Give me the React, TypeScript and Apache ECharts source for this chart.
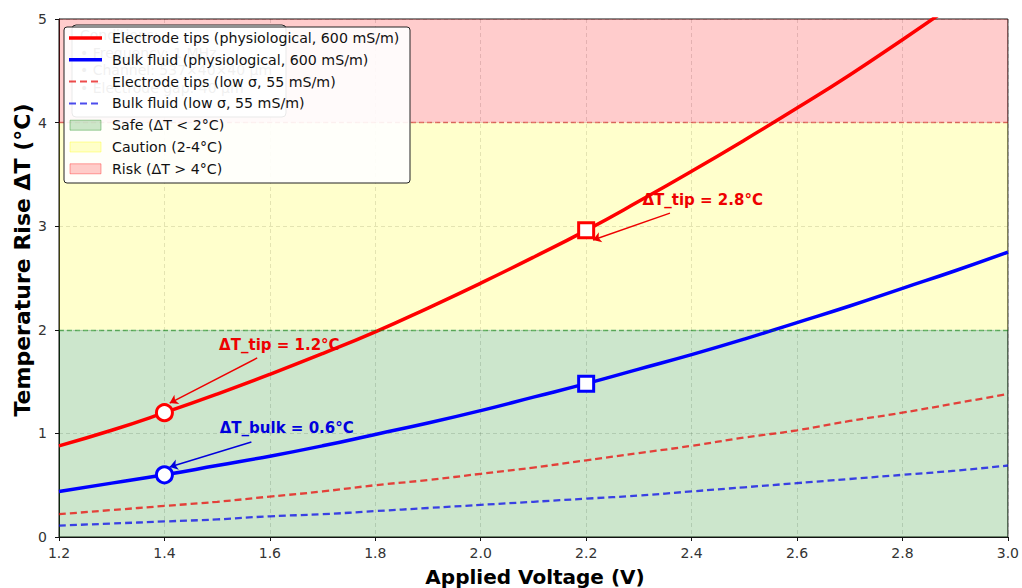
import React, { useEffect, useRef } from "react";
import * as echarts from "echarts";

// Applied voltage samples (V)
const voltage = [1.2, 1.3, 1.4, 1.5, 1.6, 1.7, 1.8, 1.9, 2.0, 2.1, 2.2, 2.3, 2.4, 2.5, 2.6, 2.7, 2.8, 2.9, 3.0];

// Temperature rise (°C) for each condition
const tipPhysiological = [0.88, 1.03, 1.2, 1.38, 1.57, 1.77, 1.98, 2.21, 2.45, 2.7, 2.96, 3.24, 3.53, 3.83, 4.14, 4.46, 4.8, 5.15, 5.51];
const bulkPhysiological = [0.44, 0.52, 0.6, 0.69, 0.78, 0.88, 0.99, 1.1, 1.22, 1.35, 1.48, 1.62, 1.76, 1.91, 2.07, 2.23, 2.4, 2.57, 2.75];
const tipLowSigma = [0.22, 0.26, 0.3, 0.34, 0.39, 0.44, 0.5, 0.55, 0.61, 0.67, 0.74, 0.81, 0.88, 0.96, 1.03, 1.12, 1.2, 1.29, 1.38];
const bulkLowSigma = [0.11, 0.13, 0.15, 0.17, 0.2, 0.22, 0.25, 0.28, 0.31, 0.34, 0.37, 0.4, 0.44, 0.48, 0.52, 0.56, 0.6, 0.64, 0.69];

// Highlighted operating points
const circleVoltage = 1.4;
const squareVoltage = 2.2;

// Safety thresholds (°C)
const safeLimit = 2;
const riskLimit = 4;
const yMax = 5;

// Annotation texts, their anchor positions and arrow endpoints (data units)
const annotationTexts = ["ΔT_tip = 1.2°C", "ΔT_bulk = 0.6°C", "ΔT_tip = 2.8°C"];
const annotationAt = [[1.618, 1.853], [1.632, 1.052], [2.421, 3.253]];
const arrowFrom = [[1.576, 1.728], [1.565, 0.917], [2.359, 3.127]];
const arrowTo = [[1.41, 1.293], [1.41, 0.676], [2.213, 2.867]];
const annotationColors = ["#ee0000", "#0000dd", "#ee0000"];

const conditionLines = ["Conditions:", "• Frequency: 1 MHz", "• Channel: 537×40×40 μm", "• Electrode gap: 40 μm"];

const legendEntries = [
  { kind: "line", color: "#ff0000", width: 3.5, dash: false, label: "Electrode tips (physiological, 600 mS/m)" },
  { kind: "line", color: "#0000ff", width: 3.5, dash: false, label: "Bulk fluid (physiological, 600 mS/m)" },
  { kind: "line", color: "rgba(230,0,0,0.7)", width: 2, dash: true, label: "Electrode tips (low σ, 55 mS/m)" },
  { kind: "line", color: "rgba(0,0,230,0.7)", width: 2, dash: true, label: "Bulk fluid (low σ, 55 mS/m)" },
  { kind: "patch", color: "rgba(0,128,0,0.2)", label: "Safe (ΔT < 2°C)" },
  { kind: "patch", color: "rgba(255,255,0,0.2)", label: "Caution (2-4°C)" },
  { kind: "patch", color: "rgba(255,0,0,0.2)", label: "Risk (ΔT > 4°C)" },
];

const pairs = (ys: number[]) => voltage.map((v, i) => [v, ys[i]]);
const valueAt = (ys: number[], v: number) => ys[voltage.findIndex((x) => Math.abs(x - v) < 1e-9)];

export default function App() {
  const ref = useRef<HTMLDivElement>(null);

  useEffect(() => {
    document.body.style.margin = "0";
    const chart = echarts.init(ref.current!, null, { renderer: "svg" });

    const legendGraphics: any[] = [];
    const lx = 64;
    const ly = 27;
    // Conditions note sitting underneath the legend
    legendGraphics.push({
      type: "rect",
      shape: { x: 72, y: 25, width: 214, height: 92, r: 4 },
      style: { fill: "#ffffff", stroke: "#222", lineWidth: 1 },
      z: 100,
    });
    conditionLines.forEach((t, i) => {
      legendGraphics.push({
        type: "text",
        x: 80,
        y: 35 + i * 17.5,
        style: { text: t, fill: "#666", font: "14px 'DejaVu Sans'", verticalAlign: "middle" },
        z: 101,
      });
    });
    legendGraphics.push({
      type: "rect",
      shape: { x: lx, y: ly, width: 346, height: 156, r: 3 },
      style: { fill: "rgba(255,255,255,0.9)", stroke: "#222", lineWidth: 1 },
      z: 102,
    });
    legendEntries.forEach((e, i) => {
      const cy = ly + 11 + i * 21.8;
      if (e.kind === "line") {
        legendGraphics.push({
          type: "line",
          shape: { x1: 69, y1: cy, x2: 102, y2: cy },
          style: { stroke: e.color, lineWidth: e.width, lineDash: e.dash ? [7, 4] : null },
          z: 103,
        });
      } else {
        legendGraphics.push({
          type: "rect",
          shape: { x: 70, y: cy - 5, width: 31, height: 10 },
          style: { fill: e.color, stroke: e.color.replace("0.2)", "0.35)"), lineWidth: 1 },
          z: 103,
        });
      }
      legendGraphics.push({
        type: "text",
        x: 112,
        y: cy,
        style: { text: e.label, fill: "#111", font: "14.2px 'DejaVu Sans'", verticalAlign: "middle" },
        z: 103,
      });
    });

    const option: any = {
      animation: false,
      backgroundColor: "#ffffff",
      grid: {
        left: 59,
        right: 11,
        top: 19,
        bottom: 51,
        show: true,
        backgroundColor: "transparent",
        borderColor: "#111",
        borderWidth: 1,
      },
      xAxis: {
        type: "value",
        min: 1.2,
        max: 3.0,
        interval: 0.2,
        axisLine: { show: true, onZero: false, lineStyle: { color: "#111" } },
        axisTick: { show: true, length: 4, lineStyle: { color: "#111" } },
        axisLabel: {
          margin: 9,
          color: "#333",
          fontSize: 14,
          fontFamily: "'DejaVu Sans', sans-serif",
          formatter: (v: number) => v.toFixed(1),
        },
        splitLine: { show: true, lineStyle: { color: "rgba(0,0,0,0.13)", type: [4, 3] } },
      },
      yAxis: {
        type: "value",
        min: 0,
        max: yMax,
        interval: 1,
        axisLine: { show: true, lineStyle: { color: "#111" } },
        axisTick: { show: true, length: 4, lineStyle: { color: "#111" } },
        axisLabel: { margin: 12, color: "#333", fontSize: 14, fontFamily: "'DejaVu Sans', sans-serif" },
        splitLine: { show: true, lineStyle: { color: "rgba(0,0,0,0.13)", type: [4, 3] } },
      },
      graphic: [
        {
          type: "text",
          x: 22,
          y: 260,
          rotation: Math.PI / 2,
          style: {
            text: "Temperature Rise ΔT (°C)",
            fill: "#000",
            font: "bold 22px 'DejaVu Sans'",
            align: "center",
            verticalAlign: "middle",
          },
        },
        {
          type: "text",
          x: 535,
          y: 577,
          style: {
            text: "Applied Voltage (V)",
            fill: "#000",
            font: "bold 20px 'DejaVu Sans'",
            align: "center",
            verticalAlign: "middle",
          },
        },
        ...legendGraphics,
      ],
      series: [
        {
          name: "zones",
          type: "line",
          z: -1,
          data: [],
          silent: true,
          markArea: {
            silent: true,
            data: [
              [{ yAxis: 0, itemStyle: { color: "rgba(0,128,0,0.2)" } }, { yAxis: safeLimit }],
              [{ yAxis: safeLimit, itemStyle: { color: "rgba(255,255,0,0.2)" } }, { yAxis: riskLimit }],
              [{ yAxis: riskLimit, itemStyle: { color: "rgba(255,0,0,0.2)" } }, { yAxis: yMax }],
            ],
          },
          markLine: {
            silent: true,
            symbol: "none",
            label: { show: false },
            data: [
              { yAxis: safeLimit, lineStyle: { color: "rgba(0,128,0,0.5)", type: [5, 3], width: 1.3 } },
              { yAxis: riskLimit, lineStyle: { color: "rgba(200,0,0,0.5)", type: [5, 3], width: 1.3 } },
            ],
          },
        },
        {
          name: "Electrode tips (low σ, 55 mS/m)",
          type: "line",
          data: pairs(tipLowSigma),
          symbol: "none",
          smooth: true,
          lineStyle: { color: "rgba(235,0,0,0.72)", width: 2.3, type: [7, 4] },
          z: 3,
        },
        {
          name: "Bulk fluid (low σ, 55 mS/m)",
          type: "line",
          data: pairs(bulkLowSigma),
          symbol: "none",
          smooth: true,
          lineStyle: { color: "rgba(0,0,235,0.72)", width: 2.3, type: [7, 4] },
          z: 3,
        },
        {
          name: "Bulk fluid (physiological, 600 mS/m)",
          type: "line",
          data: pairs(bulkPhysiological),
          symbol: "none",
          smooth: true,
          lineStyle: { color: "#0000ff", width: 3.5 },
          z: 4,
        },
        {
          name: "Electrode tips (physiological, 600 mS/m)",
          type: "line",
          data: pairs(tipPhysiological),
          symbol: "none",
          smooth: true,
          lineStyle: { color: "#ff0000", width: 3.5 },
          z: 4,
        },
        {
          name: "annotations",
          type: "scatter",
          z: 5,
          symbolSize: 0,
          itemStyle: { opacity: 1 },
          data: annotationTexts.map((t, i) => ({
            value: annotationAt[i],
            label: {
              show: true,
              position: "inside",
              formatter: t,
              color: annotationColors[i],
              fontSize: 15,
              fontWeight: "bold",
              fontFamily: "'DejaVu Sans', sans-serif",
            },
          })),
          markLine: {
            silent: true,
            symbol: ["none", "arrow"],
            symbolSize: 8,
            label: { show: false },
            data: arrowFrom.map((p, i) => [
              { coord: p, lineStyle: { color: annotationColors[i], width: 1.4, type: "solid", opacity: 1 } },
              { coord: arrowTo[i] },
            ]),
          },
        },
        {
          name: "points",
          type: "scatter",
          z: 6,
          data: [
            { value: [circleVoltage, valueAt(tipPhysiological, circleVoltage)], symbol: "circle", symbolSize: 16, itemStyle: { color: "#fff", borderColor: "#ff0000", borderWidth: 3, opacity: 1 } },
            { value: [circleVoltage, valueAt(bulkPhysiological, circleVoltage)], symbol: "circle", symbolSize: 16, itemStyle: { color: "#fff", borderColor: "#0000ff", borderWidth: 3, opacity: 1 } },
            { value: [squareVoltage, valueAt(tipPhysiological, squareVoltage)], symbol: "rect", symbolSize: 15, itemStyle: { color: "#fff", borderColor: "#ff0000", borderWidth: 3, opacity: 1 } },
            { value: [squareVoltage, valueAt(bulkPhysiological, squareVoltage)], symbol: "rect", symbolSize: 15, itemStyle: { color: "#fff", borderColor: "#0000ff", borderWidth: 3, opacity: 1 } },
          ],
        },
      ],
    };

    chart.setOption(option);
    return () => chart.dispose();
  }, []);

  return <div ref={ref} style={{ position: "fixed", left: 0, top: 0, width: 1022, height: 588 }} />;
}
